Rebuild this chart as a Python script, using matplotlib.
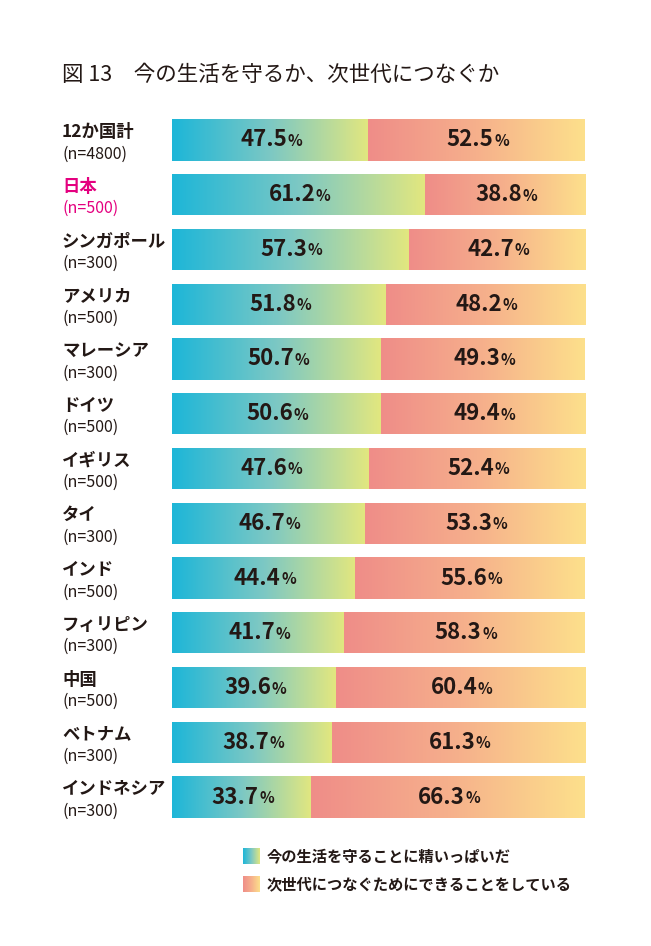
import numpy as np
import matplotlib.pyplot as plt
from matplotlib.colors import LinearSegmentedColormap

plt.rcParams['font.family'] = ['Noto Sans CJK JP', 'DejaVu Sans']

# データ
countries = ['12か国計', '日本', 'シンガポール', 'アメリカ', 'マレーシア', 'ドイツ',
             'イギリス', 'タイ', 'インド', 'フィリピン', '中国', 'ベトナム', 'インドネシア']
sample_sizes = ['(n=4800)', '(n=500)', '(n=300)', '(n=500)', '(n=300)', '(n=500)',
                '(n=500)', '(n=300)', '(n=500)', '(n=300)', '(n=500)', '(n=300)', '(n=300)']
present = [47.5, 61.2, 57.3, 51.8, 50.7, 50.6, 47.6, 46.7, 44.4, 41.7, 39.6, 38.7, 33.7]
future = [52.5, 38.8, 42.7, 48.2, 49.3, 49.4, 52.4, 53.3, 55.6, 58.3, 60.4, 61.3, 66.3]
legend_labels = ['今の生活を守ることに精いっぱいだ', '次世代につなぐためにできることをしている']

title = '図 13\u3000今の生活を守るか、次世代につなぐか'
text_color = '#231815'
highlight = '#e4007f'

cmap_present = LinearSegmentedColormap.from_list('present', ['#1db6d8', '#7cc8c4', '#e2e77f'])
cmap_future = LinearSegmentedColormap.from_list('future', ['#ef8d88', '#f6b08c', '#fde08b'])
grad = np.linspace(0, 1, 256).reshape(1, -1)

W, H = 651, 946
fig = plt.figure(figsize=(W / 100, H / 100), dpi=100)

# 凡例・タイトル用（ピクセル座標）
bg = fig.add_axes([0, 0, 1, 1])
bg.set_xlim(0, W)
bg.set_ylim(H, 0)
bg.axis('off')

ax = fig.add_axes([172 / W, 1 - 824.4 / H, 413 / W, 711.8 / H])
ax.axis('off')

y = np.arange(len(countries))
bar_h = 0.75


def gradient_fill(patch, cmap):
    x0, y0 = patch.get_x(), patch.get_y()
    w, h = patch.get_width(), patch.get_height()
    im = ax.imshow(grad, cmap=cmap, aspect='auto', interpolation='bicubic',
                   extent=(x0, x0 + w, y0 + h, y0), zorder=1)
    im.set_clip_path(patch)


bars1 = ax.barh(y, present, height=bar_h, color='none', edgecolor='none')
bars2 = ax.barh(y, future, left=present, height=bar_h, color='none', edgecolor='none')
for p in bars1:
    gradient_fill(p, cmap_present)
for p in bars2:
    gradient_fill(p, cmap_future)
ax.set_xlim(0, 100)
ax.set_ylim(len(countries) - 0.5, -0.5)

# パーセント表示
for i in range(len(countries)):
    for start, val in [(0, present[i]), (present[i], future[i])]:
        cx = start + val / 2
        ax.annotate(f'{val:.1f}', (cx, i), xytext=(17, 0), textcoords='offset pixels',
                    ha='right', va='center', fontsize=16, fontweight='bold',
                    color=text_color, zorder=3)
        ax.annotate('%', (cx, i), xytext=(17.5, -1), textcoords='offset pixels',
                    ha='left', va='center', fontsize=11, fontweight='bold',
                    color=text_color, zorder=3)

# 国名
for i, (name, n) in enumerate(zip(countries, sample_sizes)):
    c = highlight if name == '日本' else text_color
    ax.annotate(name, (0, i), xytext=(-110, 8), textcoords='offset pixels',
                ha='left', va='center', fontsize=12.5, fontweight='bold', color=c)
    ax.annotate(n, (0, i), xytext=(-110, -14), textcoords='offset pixels',
                ha='left', va='center', fontsize=11.5, color=c)

# タイトル
bg.text(62, 75, title, fontsize=15.5, color=text_color, ha='left', va='center')

# 凡例
for k, (lab, cm) in enumerate(zip(legend_labels, [cmap_present, cmap_future])):
    yc = 856 + k * 28
    bg.imshow(grad, cmap=cm, aspect='auto', interpolation='bicubic',
              extent=(243, 260, yc + 8, yc - 8))
    bg.text(267, yc, lab, fontsize=11, fontweight='bold', color=text_color,
            ha='left', va='center')
bg.set_xlim(0, W)
bg.set_ylim(H, 0)

fig.savefig('out.png', dpi=100, facecolor='white')
